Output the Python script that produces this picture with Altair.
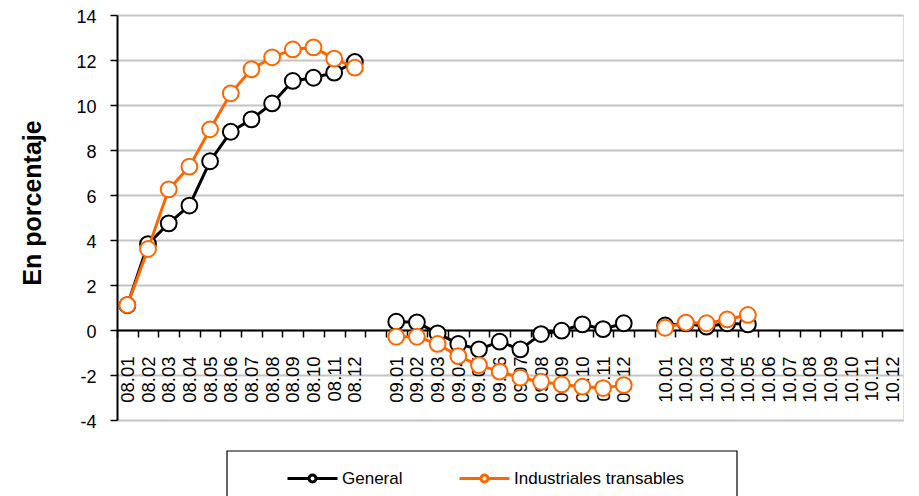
import altair as alt
import pandas as pd

# Category labels (blank slots separate the years)
periods = (["08.%02d" % m for m in range(1, 13)] + [" "] +
           ["09.%02d" % m for m in range(1, 13)] + ["  "] +
           ["10.%02d" % m for m in range(1, 13)])

series_names = ["General", "Industriales transables"]
series_colors = ["#000000", "#FF6600"]

general_08 = [1.10, 3.82, 4.74, 5.53, 7.50, 8.81, 9.36, 10.07, 11.07, 11.21, 11.44, 11.91]
industrial_08 = [1.11, 3.60, 6.25, 7.26, 8.92, 10.52, 11.59, 12.12, 12.47, 12.56, 12.06, 11.66]
general_09 = [0.37, 0.34, -0.15, -0.62, -0.86, -0.52, -0.86, -0.18, -0.03, 0.25, 0.04, 0.30]
industrial_09 = [-0.30, -0.30, -0.62, -1.16, -1.56, -1.85, -2.12, -2.30, -2.42, -2.52, -2.58, -2.45]
general_10 = [0.20, 0.30, 0.15, 0.30, 0.25]
industrial_10 = [0.10, 0.33, 0.30, 0.47, 0.67]

y_ticks = list(range(-4, 15, 2))

rows = []
for year, gen, ind in [("08", general_08, industrial_08),
                       ("09", general_09, industrial_09),
                       ("10", general_10, industrial_10)]:
    for i, v in enumerate(gen):
        rows.append({"period": "%s.%02d" % (year, i + 1), "series": series_names[0], "value": v, "seg": year})
    for i, v in enumerate(ind):
        rows.append({"period": "%s.%02d" % (year, i + 1), "series": series_names[1], "value": v, "seg": year})
df = pd.DataFrame(rows)

W, H = 786, 405
step = W / len(periods)
FONT = "Liberation Sans"

x_enc = alt.X("period:N",
              scale=alt.Scale(domain=periods, type="point", padding=0.5),
              axis=alt.Axis(title=None, offset=-90, labelAngle=-90, labelFontSize=18.5,
                            labelFont=FONT, labelColor="black", labelPadding=19,
                            tickSize=7, tickColor="black", tickWidth=1.5,
                            tickOffset=-step / 2, labelOffset=step / 2,
                            domainColor="black", domainWidth=2, grid=False,
                            labelOverlap=False))
y_enc = alt.Y("value:Q",
              scale=alt.Scale(domain=[-4, 14], nice=False, zero=False),
              axis=alt.Axis(title="En porcentaje", values=y_ticks, labelFontSize=18,
                            labelExpr="'' + datum.value", labelOffset=2,
                            labelFont=FONT, labelColor="black", labelPadding=14,
                            tickSize=7, tickColor="black", tickWidth=1.5,
                            domainColor="black", domainWidth=2,
                            grid=True, gridColor="#C4C4C4", gridWidth=1.8,
                            titleFont=FONT, titleFontSize=25, titleFontWeight="bold",
                            titleColor="black", titleX=-72, titleY=H / 2 - 15,
                            titleAngle=-90, titleBaseline="bottom", titleAlign="center"))

sym_path = ("M-1,0L-0.14,0M0.14,0L1,0M0.14,0A0.14,0.14,0,1,1,-0.14,0"
            "A0.14,0.14,0,1,1,0.14,0Z")

legend = alt.Legend(title=None, orient="none", legendX=169, legendY=437,
                    direction="horizontal", symbolType=sym_path, symbolSize=2500,
                    symbolStrokeWidth=3, symbolFillColor="white",
                    labelFont=FONT, labelFontSize=17, labelColor="black", labelLimit=500,
                    labelOffset=3, columnPadding=50, padding=0)

color_enc = alt.Color("series:N", scale=alt.Scale(domain=series_names, range=series_colors),
                      legend=legend)
stroke_enc = alt.Stroke("series:N", scale=alt.Scale(domain=series_names, range=series_colors),
                        legend=None)

base = alt.Chart(df)
layers = []
for name in series_names:
    sub = base.transform_filter(alt.datum.series == name)
    layers.append(sub.mark_line(strokeWidth=3).encode(x=x_enc, y=y_enc, color=color_enc, detail="seg:N"))
    layers.append(sub.mark_point(filled=False, fill="white", fillOpacity=1, size=250,
                                 strokeWidth=2, opacity=1).encode(x=x_enc, y=y_enc, stroke=stroke_enc))

frame = alt.Chart(alt.Data(values=[{}])).mark_rect(fillOpacity=0, stroke="black", strokeWidth=1.2).encode(
    x=alt.value(110), x2=alt.value(620), y=alt.value(436), y2=alt.value(540))

chart = alt.layer(*layers, frame).properties(
    width=W, height=H,
    autosize=alt.AutoSizeParams(type="none"),
    padding={"left": 109, "top": 7, "right": 8, "bottom": 80},
).configure_view(stroke=None).configure(background="white")

chart.save("out.html", embed_options={"renderer": "svg", "actions": False})
